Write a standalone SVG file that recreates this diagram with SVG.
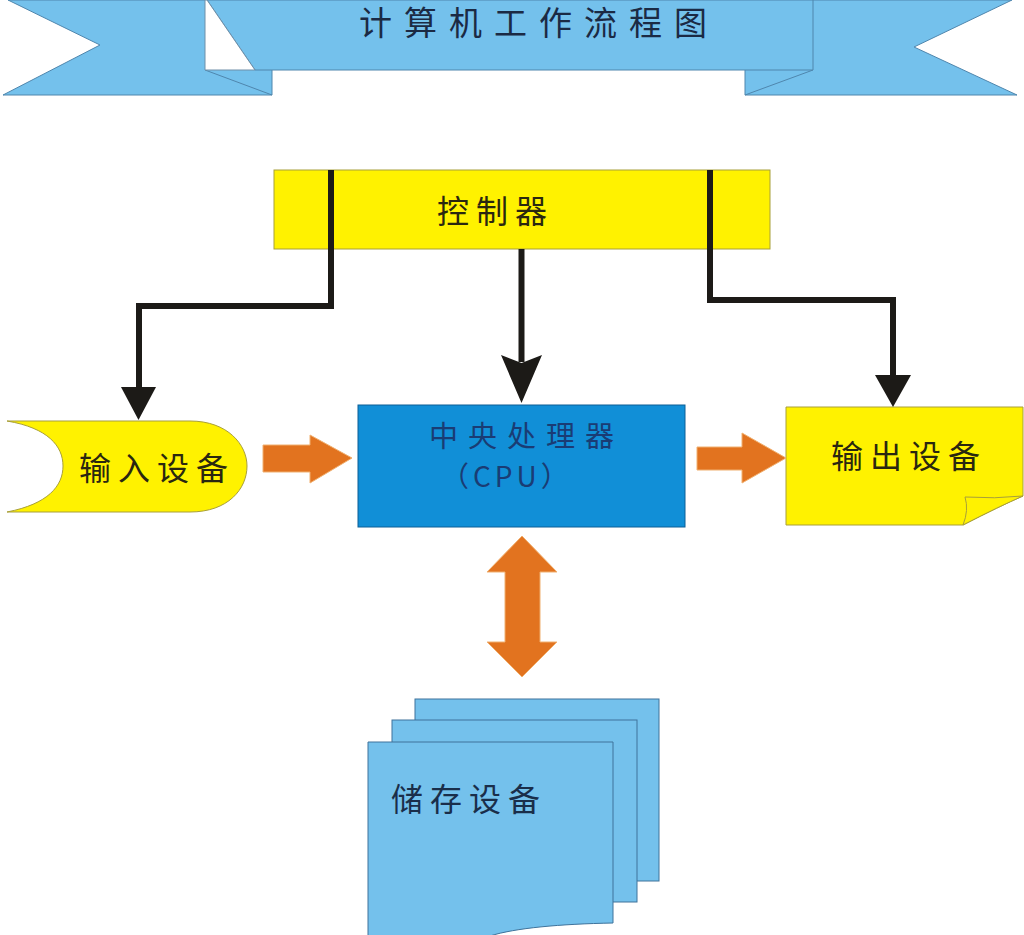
<svg xmlns="http://www.w3.org/2000/svg" width="1024" height="935" viewBox="0 0 1024 935">
<defs>
<style>
.ribbon{fill:#74c1ec;stroke:#4f86ad;stroke-width:1}
.yel{fill:#fff200;stroke:#a89f3a;stroke-width:1}
.cpu{fill:#118fd7;stroke:#0d5f96;stroke-width:1}
.sheet{fill:#74c1ec;stroke:#3f739b;stroke-width:1}
.lbl{font-family:"Noto Sans CJK SC","Noto Sans",sans-serif;font-weight:400}
.blk{fill:none;stroke:#1c1a17;stroke-width:6}
.head{fill:#1c1a17}
.org{fill:#e2731f;stroke:#f0b070;stroke-width:1}
</style>
</defs>
<rect width="1024" height="935" fill="#ffffff"/>
<g id="title">
<path class="ribbon" d="M8,0 L272,0 L272,95 L3,95 L100,45 Z"/>
<path class="ribbon" d="M745,0 L1012,0 L914,47 L1017,95 L745,95 Z"/>
<line x1="205" y1="70" x2="272" y2="95" stroke="#4f86ad" stroke-width="1"/>
<line x1="813" y1="70" x2="745" y2="95" stroke="#4f86ad" stroke-width="1"/>
<path class="ribbon" d="M207,0 L813,0 L813,70 L255,70 Z"/>
<path d="M205,0 L207,0 L255,70 L205,70 Z" fill="#ffffff" stroke="#6f8fa8" stroke-width="1"/>
<text class="lbl" x="359" y="35" font-size="33" letter-spacing="12" fill="#1b2a44">计算机工作流程图</text>
</g>
<g id="controller">
<rect class="yel" x="274" y="170" width="496" height="79"/>
<text class="lbl" x="437" y="223" font-size="32" letter-spacing="7" fill="#2a2710">控制器</text>
</g>
<g id="input">
<path class="yel" d="M7,421 L190,421 C228,421 247,445 247,466 C247,489 228,512 190,512 L7,512 C48,504 63,486 63,466 C63,446 48,428 7,421 Z"/>
<text class="lbl" x="79" y="480" font-size="32" letter-spacing="7" fill="#2a2710">输入设备</text>
</g>
<g id="cpu">
<rect class="cpu" x="358" y="405" width="327" height="122"/>
<text class="lbl" x="429" y="447" font-size="29" letter-spacing="10" fill="#1a3c74">中央处理器</text>
<text class="lbl" x="441" y="487" font-size="28" letter-spacing="4" fill="#1a3c74">（CPU）</text>
</g>
<g id="output">
<path class="yel" d="M786,407 L1023,407 L1023,496 Q1000,506 963,525 L786,525 Z"/>
<path class="yel" d="M963,525 Q969,510 965,497 Q995,499 1023,496 Q1000,506 963,525 Z"/>
<text class="lbl" x="831" y="468" font-size="32" letter-spacing="7" fill="#2a2710">输出设备</text>
</g>
<g id="storage">
<rect class="sheet" x="415" y="699" width="244" height="182"/>
<rect class="sheet" x="392" y="720" width="245" height="182"/>
<path class="sheet" d="M368,742 L613,742 L613,923 C560,924 515,928 490,936 L368,936 Z"/>
<text class="lbl" x="391" y="811" font-size="32" letter-spacing="7" fill="#1a2e4a">储存设备</text>
</g>
<g id="connectors">
<path class="blk" d="M331,170 V306 H139 V390"/>
<polygon class="head" points="121,387 156,387 138.5,420"/>
<path class="blk" d="M521.5,249 V362"/>
<polygon class="head" points="501,355 521.5,363 542,355 521.5,403"/>
<path class="blk" d="M710,170 V300 H893 V378"/>
<polygon class="head" points="875,375 911,375 893,407"/>
<polygon class="org" points="263,445 310,445 310,435 352,458 310,483 310,472 263,472"/>
<polygon class="org" points="697,447 742,447 742,433 786,458 742,483 742,470 697,470"/>
<polygon class="org" points="522,536 557,572 540,572 540,642 557,642 522,677 487,642 505,642 505,572 487,572"/>
</g>
</svg>
